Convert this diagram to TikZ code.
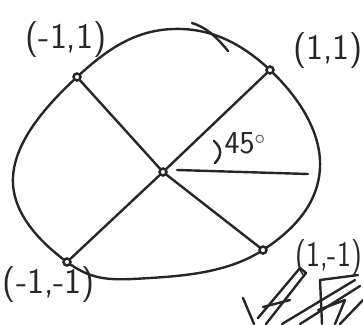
\documentclass[tikz,border=0pt]{standalone}
\usepackage{fontspec}
\begin{document}
\begin{tikzpicture}[x=1pt,y=-1pt,
  stroke/.style={line width=2.4pt,draw=black!85,line cap=round,line join=round},
  pt/.style={circle,draw=black!85,fill=white,line width=2.5pt,inner sep=0pt,minimum size=7pt},
  lbl/.style={font=\sffamily\fontsize{36}{38}\selectfont,text=black!85,inner sep=0pt}]
\useasboundingbox (0,0) rectangle (363,324);
% points
\coordinate (c) at (163,172);
\coordinate (tl) at (77,77);
\coordinate (tr) at (270,70);
\coordinate (bl) at (67,262);
\coordinate (br) at (263,250);
% circle
\draw[stroke] plot[smooth cycle,tension=0.7] coordinates {(13,177) (tl) (173,29) (tr) (320,167) (br) (150,278) (bl)};
\draw[stroke] (192,23) .. controls (205,27) and (215,35) .. (228,51);
% diagonals
\draw[stroke] (tl) -- (c) -- (br);
\draw[stroke] (tr) -- (c) -- (bl);
\node[pt] (nc) at (c) {};
\node[pt] (ntl) at (tl) {};
\node[pt] (ntr) at (tr) {};
\node[pt] (nbl) at (bl) {};
\node[pt] (nbr) at (br) {};
% horizontal reference
\coordinate (h1) at (177,170);
\coordinate (h2) at (308,174);
\draw[stroke] (h1) -- (h2);
% angle mark and label
\draw[stroke] (214,141) .. controls (222,148) and (222,156) .. (215,163);
\node[lbl,font=\sffamily\fontsize{32}{34}\selectfont] (ang) at (245,143) {45$^\circ$};
% labels
\node[lbl] (ltl) at (66,40) {(-1,1)};
\node[lbl] (ltr) at (328,51) {(1,1)};
\node[lbl] (lbl) at (49,285) {(-1,-1)};
\node[lbl,anchor=east,xscale=0.82] (lbr) at (362,258) {(1,-1)};
% scribbles
\begin{scope}
\clip (0,0) rectangle (363,324);
\draw[stroke] (258,318) -- (300,268) -- (306,273) -- (266,324);
\draw[stroke] (243,298) -- (254,324);
\draw[stroke] (263,307) -- (290,300);
\draw[stroke] (320,280) -- (322,324);
\draw[stroke] (320,280) -- (358,275);
\draw[stroke] (282,324) -- (355,280);
\draw[stroke] (300,324) -- (360,286);
\draw[stroke] (318,310) -- (345,300) -- (335,324);
\draw[stroke] (340,324) -- (363,300);
\end{scope}
\end{tikzpicture}
\end{document}
